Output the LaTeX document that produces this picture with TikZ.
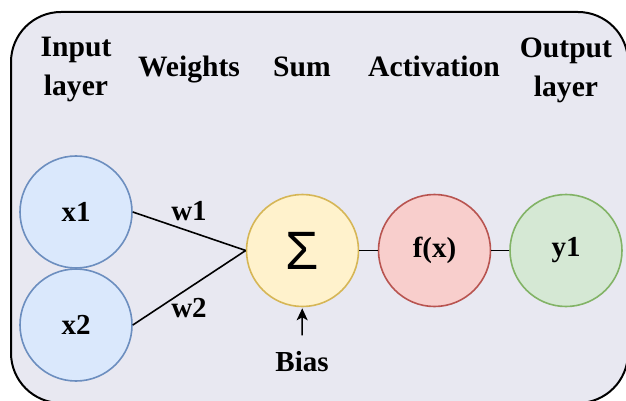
\documentclass[tikz,border=0pt]{standalone}
\usepackage{fontspec}
\setmainfont{Liberation Serif}
\newfontfamily\sigmafont{Liberation Sans}
\usetikzlibrary{positioning,arrows.meta}
\definecolor{panelgrey}{RGB}{232,232,241}
\definecolor{inputfill}{HTML}{DAE8FC}
\definecolor{inputline}{HTML}{6C8EBF}
\definecolor{sumfill}{HTML}{FFF2CC}
\definecolor{sumline}{HTML}{D6B656}
\definecolor{actfill}{HTML}{F8CECC}
\definecolor{actline}{HTML}{B85450}
\definecolor{outfill}{HTML}{D5E8D4}
\definecolor{outline}{HTML}{82B366}
\tikzset{
    panel/.style={
        draw,
        line width=1pt,
        rounded corners=25pt,
        fill=panelgrey
    },
    neuron/.style={
        draw,
        circle,
        line width=0.8pt,
        minimum size=56pt,
        inner sep=0pt,
        font=\bfseries\fontsize{14.5}{17}\selectfont
    },
    header/.style={
        align=center,
        inner sep=0pt,
        font=\bfseries\fontsize{14.8}{19.5}\selectfont
    },
    wlabel/.style={
        inner sep=0pt,
        font=\bfseries\fontsize{14.5}{17}\selectfont
    },
    link/.style={line width=0.8pt},
    arrow/.style={-{Stealth[length=6pt,width=5.5pt,inset=1.5pt]}, line width=0.8pt}
}

\begin{document}
\begin{tikzpicture}[x=0.5pt,y=-0.5pt]

\useasboundingbox (0,0) rectangle (626,401);

% Background panel
\draw[panel] (11,12) rectangle (628,403);

% Column headers
\node[header] (hinput) at (76,70) {Input\\layer};
\node[header, anchor=base] (hweights) at (189,77) {Weights};
\node[header, anchor=base] (hsum) at (302,77) {Sum};
\node[header, anchor=base] (hact) at (434,77) {Activation};
\node[header] (hout) at (566,70) {Output\\layer};

% Neurons
\node[neuron, fill=inputfill, draw=inputline] (in1) at (76,212) {x1};
\node[neuron, fill=inputfill, draw=inputline] (in2) at (76,325) {x2};
\node[neuron, fill=sumfill, draw=sumline, font=\sigmafont\fontsize{27}{27}\selectfont] (sum) at (302.5,250.5) {Σ};
\node[neuron, fill=actfill, draw=actline] (act) at (434.5,250.5) {f(x)};
\node[neuron, fill=outfill, draw=outline] (out) at (566,250.5) {y1};

% Connections
\draw[link] (in1.east) -- (sum.west);
\draw[link] (in2.east) -- (sum.west);
\draw[link] (sum) -- (act);
\draw[link] (act) -- (out);

% Weight labels
\node[wlabel, anchor=base] (w1) at (189,220) {w1};
\node[wlabel, anchor=base] (w2) at (189,317) {w2};

% Bias
\node[wlabel, anchor=base] (bias) at (302,371) {Bias};
\draw[arrow, shorten <=7.5pt, shorten >=0.5pt] (bias) -- (sum);

\end{tikzpicture}
\end{document}
